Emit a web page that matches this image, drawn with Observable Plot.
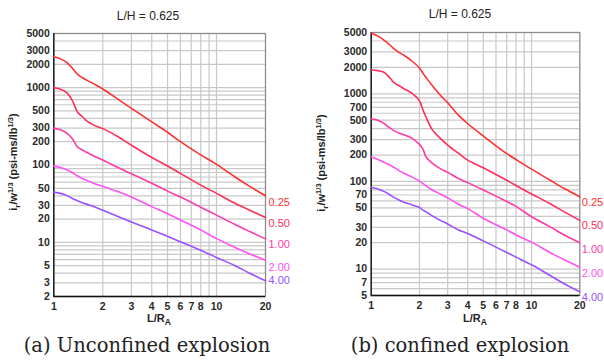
<!DOCTYPE html>
<html><head><meta charset="utf-8">
<script src="https://cdn.jsdelivr.net/npm/d3@7"></script>
<script src="https://cdn.jsdelivr.net/npm/@observablehq/plot@0.6"></script>
<style>
body{margin:0;background:#fff;}
#root{position:relative;width:604px;height:361px;overflow:hidden;font-family:"Liberation Sans",Arial,sans-serif;}
.panel{position:absolute;top:0;}
.title{position:absolute;font-size:12px;line-height:12px;color:#222;transform:translateX(-50%);white-space:nowrap;font-family:"Liberation Sans",Arial,sans-serif;}
.cap{position:absolute;font-family:"DejaVu Serif",serif;font-size:19.5px;line-height:24px;color:#222;transform:translateX(-50%);white-space:pre;}
</style></head>
<body><div id="root"></div>
<script>
// ---- data ----
const seriesKeys = ["0.25", "0.50", "1.00", "2.00", "4.00"];
const seriesColors = ["#ff3030", "#ff2d5a", "#ff3aa6", "#ff50f5", "#9a50ff"];

const titleText = "L/H = 0.625";
const captionA = "(a) Unconfined explosion";
const captionB = "(b) confined explosion";

// Panel (a): unconfined
const LA = [1, 1.1, 1.2, 1.3, 1.4, 1.5, 1.6, 1.8, 2, 2.5, 3, 4, 5, 6, 8, 10, 13, 16, 20];
const a025 = [2500, 2350, 2120, 1780, 1480, 1340, 1240, 1090, 960, 700, 540, 360, 265, 200, 135, 102, 70, 53, 40];
const a050 = [1000, 950, 860, 680, 480, 420, 370, 320, 295, 230, 180, 125, 97, 78, 55, 43, 32, 26, 21];
const a100 = [297, 285, 258, 218, 170, 156, 145, 128, 116, 92, 77, 58, 46, 38.5, 28.5, 22.5, 17, 13.8, 11.1];
const a200 = [96.6, 93, 87, 80, 72, 67, 63, 57, 53, 45, 38.5, 29, 23.5, 19.5, 14.5, 11.2, 8.6, 7.1, 5.9];
const a400 = [44.6, 43, 40.5, 37, 34.5, 32.5, 31, 28.5, 26, 21.5, 18.3, 14.5, 12, 10.2, 7.9, 6.4, 5, 4, 3.2];
const yTicksA = [2, 3, 5, 10, 20, 30, 50, 100, 200, 300, 500, 1000, 2000, 3000, 5000];
const yDomainA = [2, 5000];
const labelYA = [33, 17.7, 9.4, 4.8, 3.2];

// Panel (b): confined
const LB = [1, 1.1, 1.2, 1.3, 1.4, 1.5, 1.6, 1.8, 2, 2.1, 2.2, 2.4, 2.7, 3, 3.5, 4, 5, 6, 7, 8, 10, 13, 16, 20];
const b025 = [4900, 4550, 4100, 3650, 3200, 2950, 2750, 2350, 1970, 1720, 1530, 1240, 960, 790, 570, 455, 330, 255, 208, 178, 138, 104, 83, 67];
const b050 = [1880, 1830, 1760, 1540, 1320, 1230, 1140, 1010, 830, 660, 540, 390, 310, 260, 210, 175, 143, 120, 103, 90, 72, 56, 45, 36];
const b100 = [519, 500, 460, 410, 375, 355, 340, 310, 265, 235, 190, 162, 140, 127, 108, 97, 80, 68, 59, 52, 39.5, 30.5, 24.5, 20];
const b200 = [191, 178, 166, 155, 143, 132, 124, 112, 101, 95, 89, 80, 72, 65, 55, 49, 38, 32, 28, 24.5, 20.3, 15.5, 12.8, 10.5];
const b400 = [86, 82, 77, 71, 65, 61, 58, 54, 50.5, 47, 45, 40.5, 36, 32.7, 28, 25.5, 21, 17.8, 15.5, 13.7, 11.2, 8.5, 6.8, 5.5];
const yTicksB = [5, 7, 10, 20, 30, 50, 70, 100, 200, 300, 500, 700, 1000, 2000, 3000, 5000];
const yDomainB = [5, 5000];
const labelYB = [57, 31.5, 16.8, 8.9, 4.75];

const xTicks = [1, 2, 3, 4, 5, 6, 7, 8, 10, 20];
const xGrid = [2, 3, 4, 5, 6, 7, 8, 9, 10];
const xDomain = [1, 20];

// ---- drawing ----
const root = document.getElementById("root");

function makePanel(cfg) {
  const rows = [];
  cfg.series.forEach((vals, i) => vals.forEach((v, j) => rows.push({L: cfg.L[j], v, s: seriesKeys[i]})));
  const labels = seriesKeys.map((s, i) => ({s, y: cfg.labelY[i], x: xDomain[1]}));
  const gridYVals = d3.scaleLog().domain(cfg.yDomain).ticks(40).filter(t => t > cfg.yDomain[0] && t < cfg.yDomain[1]);

  const svg = Plot.plot({
    width: cfg.width, height: cfg.height,
    marginLeft: cfg.ml, marginRight: cfg.mr, marginTop: cfg.mt, marginBottom: cfg.mb,
    style: {fontFamily: "'Liberation Sans', Arial, sans-serif", fontSize: "10.5px", color: "#222", background: "transparent", overflow: "visible"},
    x: {type: "log", domain: xDomain, label: null, axis: null},
    y: {type: "log", domain: cfg.yDomain, label: null, axis: null},
    color: {domain: seriesKeys, range: seriesColors},
    marks: [
      Plot.gridY(gridYVals, {stroke: "#c8c8c8", strokeOpacity: 1, strokeWidth: 1.2}),
      Plot.gridX(xGrid, {stroke: "#c8c8c8", strokeOpacity: 1, strokeWidth: 1.2}),
      Plot.frame({stroke: "#8c8c8c", strokeWidth: 1.3}),
      Plot.ruleX([xDomain[0]], {stroke: "#111", strokeWidth: 1.3}),
      Plot.ruleY([cfg.yDomain[0]], {stroke: "#111", strokeWidth: 1.3}),
      Plot.line(rows, {x: "L", y: "v", z: "s", stroke: "s", strokeWidth: 1.6, curve: "catmull-rom"}),
      // y tick labels
      Plot.text(cfg.yTicks, {x: () => xDomain[0], y: d => d, text: d => String(d), textAnchor: "end", dx: -4,
        fontWeight: "bold", fill: "#2a2a2a", fontSize: 10.5}),
      // x tick labels
      Plot.text(xTicks, {x: d => d, y: () => cfg.yDomain[0], text: d => String(d), dy: 10.5,
        fontWeight: "bold", fill: "#2a2a2a", fontSize: 10.5}),
      // series labels
      Plot.text(labels, {x: "x", y: "y", text: "s", fill: "s", dx: cfg.labelDx, textAnchor: "start", fontSize: 11})
    ]
  });

  const s = d3.select(svg);
  // y axis title
  const yt = s.append("text")
    .attr("transform", `translate(${cfg.yTitleX},${cfg.yTitleY}) rotate(-90)`)
    .attr("text-anchor", "middle")
    .attr("font-weight", "bold").attr("font-size", 11).attr("fill", "#222");
  yt.append("tspan").text("i");
  yt.append("tspan").attr("dy", 2.5).attr("font-size", 8).text("r");
  yt.append("tspan").attr("dy", -2.5).text("/w");
  yt.append("tspan").attr("dy", -4).attr("font-size", 7.5).text("1/3");
  yt.append("tspan").attr("dy", 4).text(" (psi-ms/lb");
  yt.append("tspan").attr("dy", -4).attr("font-size", 7.5).text("1/3");
  yt.append("tspan").attr("dy", 4).text(")");
  // x axis title
  const xt = s.append("text")
    .attr("x", cfg.xTitleX).attr("y", cfg.xTitleY)
    .attr("text-anchor", "middle")
    .attr("font-weight", "bold").attr("font-size", 11).attr("fill", "#222");
  xt.append("tspan").text("L/R");
  xt.append("tspan").attr("dy", 3).attr("font-size", 8.5).text("A");

  const wrap = document.createElement("div");
  wrap.className = "panel";
  wrap.style.left = cfg.left + "px";
  wrap.appendChild(svg);
  root.appendChild(wrap);

  const t = document.createElement("div");
  t.className = "title";
  t.textContent = titleText;
  t.style.left = cfg.titleX + "px";
  t.style.top = cfg.titleTop + "px";
  root.appendChild(t);

  const c = document.createElement("div");
  c.className = "cap";
  c.textContent = cfg.caption;
  c.style.left = cfg.capX + "px";
  c.style.top = cfg.capTop + "px";
  root.appendChild(c);
}

makePanel({
  left: 0, width: 300, height: 330, ml: 53.3, mr: 35, mt: 33, mb: 34,
  L: LA, series: [a025, a050, a100, a200, a400], yTicks: yTicksA, yDomain: yDomainA,
  labelY: labelYA, labelDx: 3,
  yTitleX: 17, yTitleY: 162, xTitleX: 159, xTitleY: 322,
  titleX: 148, titleTop: 10, caption: captionA, capX: 147, capTop: 334
});
makePanel({
  left: 300, width: 304, height: 330, ml: 70.7, mr: 24.7, mt: 32, mb: 35,
  L: LB, series: [b025, b050, b100, b200, b400], yTicks: yTicksB, yDomain: yDomainB,
  labelY: labelYB, labelDx: 2,
  yTitleX: 25, yTitleY: 163, xTitleX: 175, xTitleY: 322,
  titleX: 460, titleTop: 8, caption: captionB, capX: 460, capTop: 334
});
</script>
</body></html>
